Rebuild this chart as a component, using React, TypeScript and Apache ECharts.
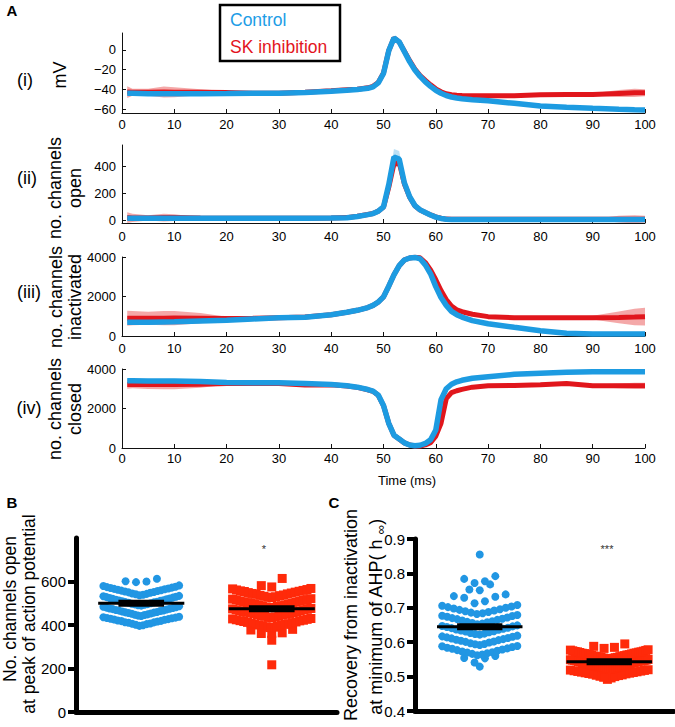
import React, { useEffect, useRef } from 'react';
import * as echarts from 'echarts';

// ---------- Panel A data (time course) ----------
const timeMs = [1, 2, 5, 8, 10, 15, 20, 25, 30, 35, 40, 43, 45, 47, 48, 49, 50, 51, 52, 53, 54, 55, 56, 57, 58, 59, 60, 61, 62, 63, 64, 65, 67, 70, 75, 80, 85, 90, 95, 98, 100];

const vmControl = [-44, -44, -44.5, -44.5, -44.5, -44.5, -44.3, -44, -44, -43.3, -42, -41, -40.3, -39, -37.5, -33.5, -24, -1, 12, 8, -2, -12, -20.5, -27, -32.5, -37, -41, -44, -46.3, -47.8, -48.8, -49.5, -50.5, -51.7, -54.2, -56.8, -58.3, -59.3, -60.2, -60.7, -61];
const vmControlSd = [1.5, 1, 0.8, 0.8, 0.8, 0.8, 0.8, 0.8, 0.8, 0.8, 0.8, 0.8, 0.8, 0.8, 0.8, 1, 1.5, 2, 2.5, 2, 1.5, 1, 1, 1, 1, 1, 1, 1.2, 1.3, 1.3, 1.3, 1.3, 1.3, 1.3, 1.3, 1.3, 1.3, 1.3, 1.3, 1.3, 1.3];
const vmSK = [-42.8, -43, -43, -42.7, -43, -43, -43.2, -44, -44, -43, -41.5, -40.5, -40, -38.5, -37, -33, -23.5, -1, 12, 8, -1.5, -11, -19.5, -26, -31, -35.5, -39.5, -42.5, -44.5, -45.5, -46, -46.4, -46.5, -46.5, -46.5, -45.5, -45.3, -45.2, -44.2, -43.6, -43.5];
const vmSKSd = [6, 3.5, 3.5, 5.5, 5, 3, 1.5, 0.6, 0.5, 0.5, 0.5, 0.5, 0.5, 0.5, 0.5, 0.5, 0.8, 1, 1.2, 1, 0.8, 0.6, 0.5, 0.5, 0.5, 0.5, 0.5, 0.5, 0.5, 0.5, 0.5, 0.5, 0.5, 0.5, 0.5, 0.7, 0.9, 1.2, 3.5, 4.2, 3.5];

const openControl = [15, 15, 15, 15, 15, 15, 15, 15, 15, 16, 17, 19, 28, 42, 50, 68, 100, 265, 470, 455, 277, 175, 110, 78, 58, 40, 24, 14, 8, 6, 6, 6, 6, 6, 6, 6, 6, 6, 6, 6, 6];
const openControlSd = [4, 3, 3, 3, 3, 3, 3, 3, 3, 3, 3, 3, 3, 4, 4, 5, 8, 25, 60, 60, 30, 15, 8, 5, 4, 3, 3, 3, 2, 2, 2, 2, 2, 2, 2, 2, 2, 2, 2, 2, 2];
const openSK = [20, 18, 18, 20, 20, 17, 15, 15, 15, 16, 18, 20, 30, 43, 51, 68, 98, 245, 420, 430, 270, 172, 108, 77, 58, 40, 25, 15, 9, 7, 7, 7, 7, 7, 7, 7, 7, 7, 8, 8, 8];
const openSKSd = [40, 30, 20, 28, 25, 5, 2, 1, 1, 1, 1, 1, 2, 2, 2, 3, 5, 15, 30, 30, 20, 10, 6, 4, 3, 3, 2, 2, 1, 1, 1, 1, 1, 1, 1, 1, 2, 3, 25, 30, 25];

const inactControl = [690, 695, 700, 712, 720, 760, 800, 860, 920, 950, 1080, 1200, 1300, 1440, 1550, 1720, 1980, 2520, 3100, 3560, 3850, 3950, 3980, 3910, 3600, 3150, 2500, 1950, 1550, 1250, 1080, 960, 780, 620, 440, 270, 140, 105, 100, 100, 100];
const inactControlSd = [80, 70, 60, 60, 60, 60, 60, 60, 60, 60, 60, 60, 60, 60, 60, 70, 80, 90, 90, 80, 60, 50, 60, 80, 120, 150, 170, 170, 160, 150, 140, 130, 120, 100, 80, 60, 50, 40, 40, 40, 40];
const inactSK = [900, 900, 900, 900, 910, 900, 880, 900, 930, 960, 1080, 1200, 1300, 1440, 1550, 1720, 1980, 2520, 3100, 3560, 3850, 3950, 3990, 3960, 3720, 3350, 2850, 2300, 1850, 1520, 1330, 1230, 1100, 980, 930, 930, 930, 930, 940, 960, 980];
const inactSKSd = [380, 360, 330, 360, 360, 260, 100, 50, 30, 30, 30, 30, 30, 30, 30, 30, 40, 60, 60, 50, 40, 40, 40, 40, 50, 60, 60, 60, 50, 40, 40, 40, 40, 40, 40, 40, 50, 100, 300, 420, 450];

const closedControl = [3400, 3400, 3390, 3390, 3390, 3370, 3320, 3310, 3300, 3260, 3220, 3150, 3080, 2960, 2880, 2680, 2150, 1250, 650, 460, 260, 150, 110, 140, 230, 420, 910, 2450, 3000, 3230, 3350, 3430, 3530, 3610, 3730, 3780, 3830, 3860, 3860, 3860, 3860];
const closedControlSd = [100, 90, 80, 80, 80, 80, 50, 40, 40, 40, 40, 40, 40, 40, 40, 50, 60, 80, 60, 50, 40, 30, 30, 40, 50, 80, 120, 150, 100, 60, 50, 40, 40, 40, 40, 40, 40, 40, 40, 40, 40];
const closedSK = [3220, 3220, 3220, 3220, 3220, 3230, 3260, 3270, 3270, 3190, 3200, 3140, 3070, 2950, 2870, 2670, 2150, 1250, 650, 450, 260, 150, 100, 100, 160, 270, 600, 1250, 2500, 2800, 2900, 2970, 3080, 3150, 3170, 3200, 3260, 3150, 3150, 3150, 3150];
const closedSKSd = [220, 200, 230, 250, 250, 180, 60, 40, 30, 30, 30, 30, 30, 30, 30, 30, 40, 60, 60, 50, 40, 30, 30, 30, 40, 60, 80, 100, 80, 60, 50, 50, 40, 40, 40, 40, 50, 60, 120, 150, 150];

const xTickStep = 10;
const vmTicks = [-60, -40, -20, 0];
const openTicks = [0, 200, 400];
const inactTicks = [0, 2000, 4000];
const closedTicks = [0, 2000, 4000];

// ---------- Panels B and C (scatter dot plots) ----------
const groupNames = ['Control', 'SK inhibition'];
const channelsOpenControl = [
  396, 399, 401, 404, 406, 407, 410, 412, 413, 416, 418, 419, 421, 424, 425, 427, 429, 431, 432, 434, 436, 438,
  441, 443, 446, 447, 449, 452, 453, 455, 457, 458, 460, 462, 464, 466, 467, 469, 471, 473, 475, 476, 478, 480, 482, 484, 486,
  489, 491, 493, 495, 496, 498, 500, 502, 504, 505, 507, 509, 511, 513, 514, 516, 518, 520, 522, 524, 526, 528, 530, 532, 534,
  537, 539, 541, 543, 545, 548, 550, 552, 554, 556, 558, 560, 562, 564, 566, 568, 570, 572, 574, 576, 579, 582,
  597, 600, 601, 613,
];
const channelsOpenSK = [
  217, 330, 361, 361, 364, 377, 380,
  388, 390, 392, 394, 397, 398, 400, 403, 404, 406, 408, 411, 412, 414, 416, 419, 420, 422, 424, 426, 428, 430,
  433, 435, 437, 440, 441, 443, 446, 447, 449, 451, 453, 455, 457, 458, 460, 462, 464, 466, 469, 470, 472, 474, 476,
  479, 481, 483, 485, 488, 489, 491, 493, 495, 497, 500, 501, 503, 505, 507, 509, 511, 513, 516, 517, 519, 521,
  526, 528, 530, 532, 535, 536, 538, 541, 543, 545, 547, 549, 551, 554, 555, 557, 559, 561, 563, 566, 568,
  575, 581, 614,
];
const meanChannelsOpen = [500, 475];
const channelsTicks = [0, 200, 400, 600];

const hInfControl = [
  0.529, 0.541, 0.553, 0.554, 0.560,
  0.562, 0.564, 0.566, 0.568, 0.570, 0.571, 0.573, 0.575, 0.577, 0.579, 0.581, 0.582, 0.584, 0.586, 0.588, 0.589,
  0.592, 0.594, 0.595, 0.597, 0.599, 0.601, 0.602, 0.604, 0.606, 0.607, 0.609, 0.611, 0.612, 0.614, 0.616, 0.617, 0.619,
  0.622, 0.624, 0.625, 0.627, 0.629, 0.631, 0.632, 0.634, 0.636, 0.637, 0.639, 0.641, 0.642, 0.644, 0.646, 0.647, 0.649,
  0.652, 0.654, 0.656, 0.658, 0.659, 0.661, 0.663, 0.665, 0.667, 0.668, 0.670, 0.672, 0.674, 0.676, 0.677, 0.679,
  0.682, 0.684, 0.686, 0.688, 0.690, 0.692, 0.694, 0.696, 0.698, 0.700, 0.702, 0.704, 0.706, 0.708,
  0.713, 0.719, 0.729, 0.732, 0.734, 0.739, 0.751, 0.753,
  0.768, 0.772, 0.777, 0.784, 0.792, 0.855,
];
const hInfSK = [
  0.492, 0.496, 0.498, 0.500, 0.501, 0.503, 0.504, 0.505, 0.507, 0.508, 0.509, 0.510, 0.511, 0.512, 0.513, 0.514, 0.515, 0.516, 0.517, 0.518, 0.519, 0.520,
  0.521, 0.522, 0.522, 0.523, 0.524, 0.525, 0.525, 0.526, 0.527, 0.528, 0.529, 0.529, 0.530, 0.531, 0.532, 0.533, 0.533, 0.534, 0.535, 0.536,
  0.537, 0.537, 0.538, 0.539, 0.540, 0.541, 0.541, 0.542, 0.543, 0.544, 0.544, 0.545, 0.546, 0.546, 0.547, 0.547, 0.548, 0.548, 0.549, 0.550,
  0.551, 0.552, 0.552, 0.553, 0.554, 0.555, 0.556, 0.556, 0.557, 0.558, 0.559, 0.560, 0.560, 0.561, 0.562, 0.563, 0.564, 0.564, 0.565, 0.566,
  0.567, 0.568, 0.568, 0.569, 0.570, 0.571, 0.572, 0.572, 0.573, 0.574, 0.575, 0.576, 0.577, 0.578,
  0.582, 0.585, 0.588, 0.595,
];
const meanHInf = [0.645, 0.543];
const hInfTicks = [0.4, 0.5, 0.6, 0.7, 0.8, 0.9];

// ---------- styling ----------
const FONT = 'Liberation Sans, Arial, Helvetica, sans-serif';
const BLUE = '#1d9be1';
const RED = '#e1161c';
const BLUE_BAND = '#9ed3f1';
const RED_BAND = '#f3a3a3';
const DOT_BLUE = '#2196e3';
const SQ_RED = '#ff2a0a';

// beeswarm layout (Prism-like rows)
function swarm(values: number[], center: number, origin: number, bin: number, step: number, maxHalf: number) {
  const groups = new Map<number, number[]>();
  values.forEach((v) => {
    const k = Math.floor((v - origin) / bin + 1e-9);
    if (!groups.has(k)) groups.set(k, []);
    groups.get(k)!.push(v);
  });
  const out: number[][] = [];
  groups.forEach((g) => {
    g.sort((a, b) => a - b);
    const n = g.length;
    const d = n > 1 ? Math.min(step, (2 * maxHalf) / (n - 1)) : 0;
    const slots: number[] = [];
    for (let j = 0; j < n; j++) slots.push((j - (n - 1) / 2) * d);
    slots.sort((a, b) => Math.abs(a) - Math.abs(b) || a - b);
    g.forEach((v, i) => out.push([center + slots[i], v]));
  });
  return out;
}

const minusFmt = (v: number) => String(v).replace('-', '\u2212');

export default function App() {
  const ref = useRef<HTMLDivElement>(null);
  useEffect(() => {
    if (!ref.current) return;
    const chart = echarts.init(ref.current, undefined, { renderer: 'svg' });

    const panels = [
      { top: 33, height: 80, min: -64, max: 17, c: vmControl, cs: vmControlSd, s: vmSK, ss: vmSKSd, ticks: vmTicks, margin: 5 },
      { top: 145, height: 78, min: -20, max: 560, c: openControl, cs: openControlSd, s: openSK, ss: openSKSd, ticks: openTicks, margin: 7 },
      { top: 257, height: 79, min: 0, max: 4000, c: inactControl, cs: inactControlSd, s: inactSK, ss: inactSKSd, ticks: inactTicks, margin: 6 },
      { top: 369, height: 79, min: 0, max: 4000, c: closedControl, cs: closedControlSd, s: closedSK, ss: closedSKSd, ticks: closedTicks, margin: 4 },
    ];

    const grids: any[] = [];
    const xAxes: any[] = [];
    const yAxes: any[] = [];
    const series: any[] = [];

    const band = (i: number, vals: number[], sd: number[], color: string, opacity: number, z: number) => ({
      type: 'custom', xAxisIndex: i, yAxisIndex: i, silent: true, z, clip: true,
      data: [[timeMs[0], vals[0]]],
      renderItem: (_params: any, api: any) => {
        const upper = timeMs.map((t, k) => api.coord([t, vals[k] + sd[k]]));
        const lower = timeMs.map((t, k) => api.coord([t, vals[k] - sd[k]])).reverse();
        return { type: 'polygon', shape: { points: upper.concat(lower) }, style: { fill: color, opacity } };
      },
    });

    panels.forEach((p, i) => {
      grids.push({ left: 122, width: 523, top: p.top, height: p.height, containLabel: false });
      xAxes.push({
        gridIndex: i, type: 'value', min: 0, max: 100, interval: xTickStep,
        axisLine: { show: true, onZero: false, lineStyle: { color: '#111', width: 1 } },
        axisTick: { show: true, inside: true, length: 4, lineStyle: { color: '#111' } },
        axisLabel: { color: '#000', fontSize: 13, margin: p.margin, fontFamily: FONT },
        splitLine: { show: false },
      });
      yAxes.push({
        gridIndex: i, type: 'value', min: p.min, max: p.max,
        axisLine: { show: true, lineStyle: { color: '#111', width: 1 } },
        axisTick: { show: true, inside: true, length: 4, customValues: p.ticks, lineStyle: { color: '#111' } },
        axisLabel: { color: '#000', fontSize: 13, margin: 6, customValues: p.ticks, formatter: minusFmt, fontFamily: FONT },
        splitLine: { show: false },
      });
      series.push(band(i, p.s, p.ss, RED_BAND, 0.95, 1));
      series.push(band(i, p.c, p.cs, BLUE_BAND, 0.7, 2));
      series.push({
        name: groupNames[1], type: 'line', xAxisIndex: i, yAxisIndex: i, symbol: 'none', z: 3,
        lineStyle: { color: RED, width: 5 }, data: timeMs.map((t, k) => [t, p.s[k]]),
      });
      series.push({
        name: groupNames[0], type: 'line', xAxisIndex: i, yAxisIndex: i, symbol: 'none', z: 4,
        lineStyle: { color: BLUE, width: 5.5 }, data: timeMs.map((t, k) => [t, p.c[k]]),
      });
    });

    // Panels B and C
    const dotPanels = [
      { left: 76, top: 538, width: 261, height: 174, min: 0, max: 800, ticks: channelsTicks, ctrl: channelsOpenControl, sk: channelsOpenSK, means: meanChannelsOpen, oc: 392, os: 340, bin: 48, binS: 46 },
      { left: 415, top: 539, width: 259, height: 172, min: 0.4, max: 0.9, ticks: hInfTicks, ctrl: hInfControl, sk: hInfSK, means: meanHInf, oc: 0.5605, os: 0.4905, bin: 0.03, binS: 0.03 },
    ];
    dotPanels.forEach((d, j) => {
      const gi = 4 + j;
      grids.push({ left: d.left, top: d.top, width: d.width, height: d.height, containLabel: false });
      xAxes.push({
        gridIndex: gi, type: 'value', min: 0, max: 4,
        axisLine: { show: true, onZero: false, lineStyle: { color: '#000', width: 5 } },
        axisTick: { show: false }, axisLabel: { show: false }, splitLine: { show: false },
      });
      yAxes.push({
        gridIndex: gi, type: 'value', min: d.min, max: d.max,
        axisLine: { show: true, lineStyle: { color: '#000', width: 5 } },
        axisTick: { show: true, length: 8, customValues: d.ticks, lineStyle: { color: '#000', width: 4 } },
        axisLabel: { color: '#000', fontSize: 15, margin: 10, customValues: d.ticks, fontFamily: FONT },
        splitLine: { show: false },
      });
      series.push({
        type: 'scatter', xAxisIndex: gi, yAxisIndex: gi, symbol: 'circle', symbolSize: 8, z: 3,
        itemStyle: { color: DOT_BLUE, opacity: 1 },
        data: swarm(d.ctrl, 1, d.oc, d.bin, 0.16, 0.58),
      });
      series.push({
        type: 'scatter', xAxisIndex: gi, yAxisIndex: gi, symbol: 'rect', symbolSize: 9, z: 3,
        itemStyle: { color: SQ_RED, opacity: 1 },
        data: swarm(d.sk, 3, d.os, d.binS, 0.16, 0.6),
      });
      [1, 3].forEach((c, g) => {
        series.push({
          type: 'line', xAxisIndex: gi, yAxisIndex: gi, symbol: 'none', z: 5, silent: true,
          lineStyle: { color: '#000', width: 3 },
          data: [[c - 0.66, d.means[g]], [c + 0.66, d.means[g]]],
        });
        series.push({
          type: 'line', xAxisIndex: gi, yAxisIndex: gi, symbol: 'none', z: 5, silent: true,
          lineStyle: { color: '#000', width: 7 },
          data: [[c - 0.35, d.means[g]], [c + 0.35, d.means[g]]],
        });
      });
    });

    const txt = (x: number, y: number, text: string, size: number, opts: any = {}) => ({
      type: 'text', x, y, z: 100, rotation: opts.rot ? Math.PI / 2 : 0,
      style: {
        text, fill: opts.fill || '#000', fontSize: size, fontFamily: FONT, fontWeight: opts.bold ? 'bold' : 'normal',
        align: opts.align || 'center', verticalAlign: 'middle', textAlign: opts.align || 'center', textVerticalAlign: 'middle',
        rich: opts.rich,
      },
    });

    const graphic: any[] = [
      txt(12, 10, 'A', 15, { bold: true }),
      txt(12, 502, 'B', 15, { bold: true }),
      txt(334, 502, 'C', 15, { bold: true }),
      { type: 'rect', z: 100, shape: { x: 220, y: 5, width: 120, height: 56 }, style: { fill: '#fff', stroke: '#000', lineWidth: 2.5 } },
      txt(230, 20, groupNames[0], 17.5, { align: 'left', fill: '#1d9de6' }),
      txt(230, 47, groupNames[1], 17.5, { align: 'left', fill: '#e3141c' }),
      txt(25, 80, '(i)', 18),
      txt(27, 178, '(ii)', 18),
      txt(29, 292, '(iii)', 18),
      txt(29, 408, '(iv)', 18),
      txt(60, 75, 'mV', 18, { rot: true }),
      txt(55, 188, 'no. channels', 18, { rot: true }),
      txt(75, 188, 'open', 18, { rot: true }),
      txt(56, 297, 'no. channels', 18, { rot: true }),
      txt(75, 297, 'inactivated', 18, { rot: true }),
      txt(55, 409, 'no. channels', 18, { rot: true }),
      txt(75, 409, 'closed', 18, { rot: true }),
      txt(407, 480, 'Time (ms)', 13),
      txt(10, 609, 'No. channels open', 17.5, { rot: true }),
      txt(29, 614, 'at peak of action potential', 17.5, { rot: true }),
      txt(351, 615, 'Recovery from inactivation', 18, { rot: true }),
      txt(376, 617, '{a|at minimum of AHP( h }{s|\u221e}{a|)}', 18, {
        rot: true,
        rich: {
          a: { fontSize: 18, fontFamily: FONT, lineHeight: 22, fill: '#000' },
          s: { fontSize: 13, fontFamily: FONT, lineHeight: 13, verticalAlign: 'bottom', fill: '#000' },
        },
      }),
      txt(264, 549, '*', 11, { fill: '#333' }),
      txt(607, 549, '***', 11, { fill: '#333' }),
    ];

    chart.setOption({
      animation: false,
      backgroundColor: '#fff',
      textStyle: { fontFamily: FONT },
      grid: grids,
      xAxis: xAxes,
      yAxis: yAxes,
      series,
      graphic,
    });
    return () => chart.dispose();
  }, []);
  return <div ref={ref} style={{ position: 'absolute', left: 0, top: 0, width: 675, height: 727 }} />;
}
